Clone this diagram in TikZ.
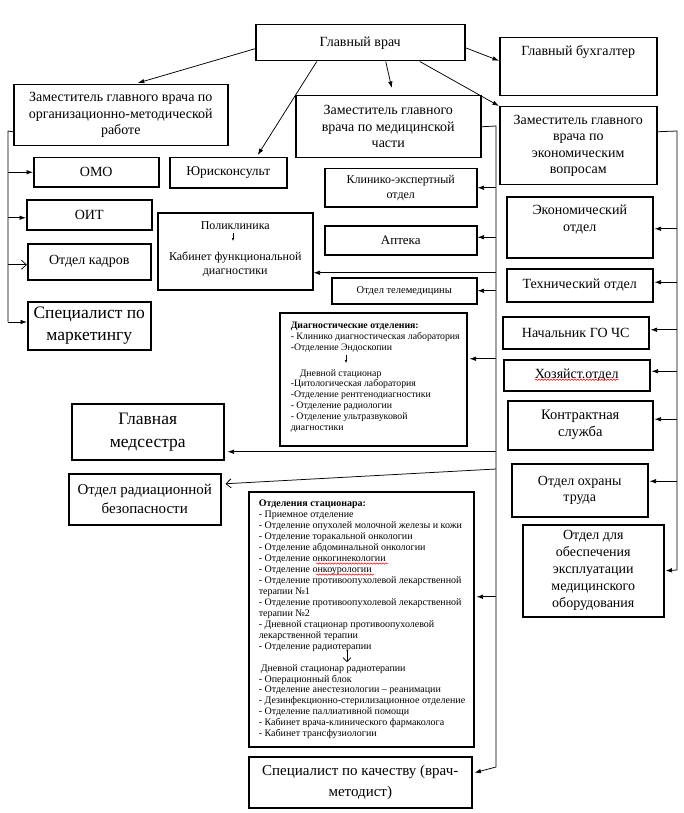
\documentclass[tikz,border=0pt]{standalone}
\usepackage{fontspec}
\setmainfont{Liberation Serif}
\usetikzlibrary{arrows.meta,calc,decorations.pathmorphing}
\newcommand\fsz[2]{\fontsize{#1}{#2}\selectfont}
\begin{document}
\begin{tikzpicture}[x=1pt,y=-1pt,
  box/.style={draw,line width=1.5pt,inner sep=0pt,anchor=north west,align=center},
  con/.style={line width=0.75pt},
  arr/.style={con,-{Latex[length=6.5pt,width=4.5pt]}},
  oarr/.style={con,-{Straight Barb[length=5pt,width=9pt]}},
  f14/.style={font=\fsz{14}{16.5}},
  spell/.style={red,line width=0.5pt,decorate,decoration={snake,amplitude=0.7pt,segment length=3pt}},
]
\fill[white] (0,0) rectangle (684,813);
\useasboundingbox (0,0) rectangle (684,813);

% ---------- boxes ----------
\node[box,f14,minimum width=209pt,minimum height=36pt] (gv) at (255,24) {Главный врач};
\node[box,f14] (gb) at (499,37) {\begin{minipage}[c][58pt][t]{157pt}\centering\rule{0pt}{18pt}Главный бухгалтер\end{minipage}};
\node[box,f14,minimum width=214pt,minimum height=61pt] (zorg) at (13,84) {Заместитель  главного врача по\\организационно-методической\\работе};
\node[box,f14,minimum width=185pt,minimum height=62pt] (zmed) at (295,95) {Заместитель  главного\\врача по медицинской\\части};
\node[box,f14,minimum width=157pt,minimum height=78pt] (zecon) at (499,106) {Заместитель  главного\\врача по\\экономическим\\вопросам};

\node[box,f14,minimum width=125pt,minimum height=29pt] (omo) at (33,157) {ОМО};
\node[box,font=\fsz{13.5}{16},minimum width=117pt,minimum height=30pt] (yur) at (169,157) {Юрисконсульт};
\node[box,f14,minimum width=125pt,minimum height=30pt] (oit) at (26,199) {ОИТ};
\node[box,f14,minimum width=123pt,minimum height=36pt] (kadr) at (27,243) {Отдел  кадров};
\node[box,font=\fsz{17.5}{22},minimum width=123pt,minimum height=48pt] (mark) at (27,301) {Специалист по\\маркетингу};
\node[box,font=\fsz{12}{14}] (polik) at (157,212) {\begin{minipage}[c][77pt][t]{155pt}\centering\rule{0pt}{17pt}Поликлиника\\[17pt]Кабинет  функциональной\\диагностики\end{minipage}};

\node[box,font=\fsz{12}{15},minimum width=152pt,minimum height=38pt] (ked) at (324,168) {Клинико-экспертный\\отдел};
\node[box,font=\fsz{13}{15},minimum width=152pt,minimum height=29pt] (apt) at (324,225) {Аптека};
\node[box,font=\fsz{10.5}{12},minimum width=145pt,minimum height=26pt] (tmed) at (331,277) {Отдел телемедицины};
\node[box,font=\fsz{9.8}{10.8}] (diag) at (279,312) {\begin{minipage}[c][133pt][t]{187pt}\raggedright\leftskip=11pt\rule{0pt}{16pt}\textbf{Диагностические отделения:}\\- Клинико диагностическая лаборатория\\-Отделение Эндоскопии\\[15pt]\hspace*{9pt}Дневной стационар\\-Цитологическая лаборатория\\-Отделение рентгенодиагностики\\- Отделение радиологии\\- Отделение ультразвуковой\\диагностики\end{minipage}};

\node[box,f14] (econ) at (506,196) {\begin{minipage}[c][61pt][t]{146pt}\centering\rule{0pt}{18pt}Экономический\\отдел\end{minipage}};
\node[box,f14,minimum width=146pt,minimum height=33pt] (tech) at (506,268) {Технический  отдел};
\node[box,f14,minimum width=146pt,minimum height=32pt] (gochs) at (502,316) {Начальник ГО ЧС};
\node[box,f14,minimum width=146pt,minimum height=31pt] (hoz) at (503,359) {Хозяйст.отдел};
\node[box,font=\fsz{14.5}{17},minimum width=145pt,minimum height=49pt] (kontr) at (507,400) {Контрактная\\служба};

\node[box,font=\fsz{17.5}{23},minimum width=152pt,minimum height=56pt] (nurse) at (71,403) {Главная\\медсестра};
\node[box,font=\fsz{15}{19},minimum width=152pt,minimum height=51pt] (rad) at (68,473) {Отдел радиационной\\безопасности};

\node[box,font=\fsz{10}{10.95}] (stac) at (248,491) {\begin{minipage}[c][255pt][t]{225pt}\raggedright\leftskip=10pt\rule{0pt}{15pt}\textbf{Отделения стационара:}\\
- Приемное отделение\\
- Отделение опухолей молочной железы и кожи\\
- Отделение торакальной онкологии\\
- Отделение абдоминальной онкологии\\
- Отделение онкогинекологии\\
- Отделение онкоурологии\\
- Отделение противоопухолевой лекарственной\\
терапии №1\\
- Отделение противоопухолевой лекарственной\\
терапии №2\\
- Дневной стационар противоопухолевой\\
лекарственной терапии\\
- Отделение радиотерапии\\[11pt]
\hspace*{2pt}Дневной стационар радиотерапии\\
- Операционный блок\\
- Отделение анестезиологии – реанимации\\
- Дезинфекционно-стерилизационное отделение\\
- Отделение паллиативной помощи\\
- Кабинет врача-клинического фармаколога\\
- Кабинет трансфузиологии\end{minipage}};

\node[box,f14,minimum width=136pt,minimum height=53pt] (ohr) at (511,463) {Отдел  охраны\\труда};
\node[box,font=\fsz{14}{17},minimum width=141pt,minimum height=92pt] (obesp) at (522,524) {Отдел для\\обеспечения\\эксплуатации\\медицинского\\оборудования};
\node[box,font=\fsz{15}{21},minimum width=223pt,minimum height=51pt] (qual) at (248,756) {Специалист по качеству (врач-\\методист)};

% ---------- spell-check underlines ----------
\draw[spell] ($(hoz.center)+(-42,4.5)$) -- ($(hoz.center)+(42,4.5)$);
\draw[spell] ($(stac.north west)+(68,72.5)$) -- ($(stac.north west)+(140,72.5)$);
\draw[spell] ($(stac.north west)+(68,83.5)$) -- ($(stac.north west)+(126,83.5)$);

% ---------- arrows from the chief doctor ----------
\draw[arr] ([yshift=-6pt]gv.west) -- ([xshift=17pt,yshift=1pt]zorg.north);
\draw[arr] ([xshift=-43.5pt]gv.south) -- ([xshift=29.5pt,yshift=2pt]yur.north);
\draw[arr] ([xshift=25.5pt]gv.south) -- ([xshift=3.5pt,yshift=7pt]zmed.north);
\draw[arr] ([yshift=-5pt]gv.east) -- ([yshift=6pt]gb.west);
\draw[arr] ([xshift=59.5pt]gv.south) -- (zecon.north west);

% ---------- left bus ----------
\coordinate (lb1) at (8,131);
\coordinate (lb2) at (8,322);
\draw[con] ([yshift=-16.5pt]zorg.west) -- (lb1) -- (lb2);
\draw[arr] (lb1 |- omo.west) -- (omo.west);
\coordinate (oi) at ([yshift=-3pt]oit.west);
\draw[arr] (lb1 |- oi) -- (oi);
\coordinate (kd) at ([yshift=-3pt]kadr.west);
\draw[oarr] (lb1 |- kd) -- (kd);
\draw[arr] (lb2) -- (lb2 -| mark.west);

% ---------- middle bus ----------
\coordinate (mb1) at (496,126);
\coordinate (mb2) at (496,767);
\draw[con] (zmed.east) -- (mb1) -- (mb2);
\draw[arr] (mb1 |- ked.east) -- (ked.east);
\coordinate (ap) at ([yshift=3pt]apt.east);
\draw[arr] (mb1 |- ap) -- (ap);
\coordinate (pk) at ([yshift=-21.5pt]polik.east);
\draw[arr] (mb1 |- pk) -- (pk);
\draw[arr] (mb1 |- tmed.east) -- (tmed.east);
\coordinate (dg) at ([xshift=2pt,yshift=20.5pt]diag.east);
\draw[arr] (mb1 |- dg) -- (dg);
\coordinate (ns) at ([xshift=3pt,yshift=-20pt]nurse.east);
\draw[arr] (mb1 |- ns) -- (ns);
\coordinate (rd) at ([xshift=4pt,yshift=15.5pt]rad.east);
\draw[oarr] ([yshift=-343pt]mb1) -- (rd);
\coordinate (st) at ([xshift=2pt,yshift=22.5pt]stac.east);
\draw[arr] (mb1 |- st) -- (st);
\draw[arr] (mb2) -- ([xshift=2pt,yshift=9.5pt]qual.east);

% ---------- right bus ----------
\coordinate (rb1) at (677,131);
\coordinate (rb2) at (677,570);
\draw[con] ([yshift=14pt]zecon.east) -- (rb1) -- (rb2);
\foreach \n/\s in {econ/-1.5,tech/3,gochs/3,hoz/4,kontr/6,ohr/9}{
  \coordinate (t) at ([xshift=1pt,yshift=\s pt]\n.east);
  \draw[arr] (rb1 |- t) -- (t);
}
\draw[arr] (rb2) -- ([xshift=1pt]obesp.east);

% ---------- small arrows inside boxes ----------
\draw[line width=0.5pt,-{Latex[length=3pt,width=2.5pt]}] ($(polik.north west)+(76,21)$) -- ($(polik.north west)+(76,29)$);
\draw[line width=0.5pt,-{Latex[length=3pt,width=2.5pt]}] ($(diag.north west)+(67,43)$) -- ($(diag.north west)+(67,51)$);
\draw[line width=0.6pt,-{Straight Barb[length=4pt,width=8pt]}] ($(stac.north west)+(99,159)$) -- ($(stac.north west)+(99,171)$);
\end{tikzpicture}
\end{document}
